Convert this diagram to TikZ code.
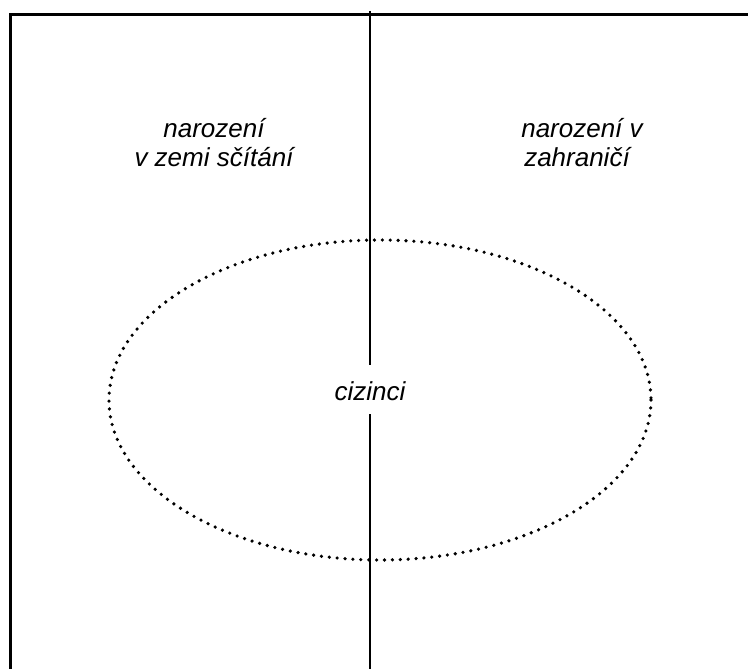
\documentclass[tikz,border=0pt]{standalone}
\usepackage{fontspec}
\setmainfont{Liberation Sans}
\begin{document}
\begin{tikzpicture}[x=1pt,y=-1pt,
  frame/.style={line width=3pt},
  divider/.style={line width=2pt},
  dotline/.style={line width=3.6pt, line cap=round, dash pattern=on 0pt off 7.9pt},
  lbl/.style={font=\fontsize{26}{29.3}\selectfont\itshape, inner sep=0pt, anchor=base}]
\useasboundingbox (0,0) rectangle (748,669);
\draw[frame] (10.5,14.5) rectangle (770,690);
\coordinate (top) at (370,11);
\coordinate (bot) at (370,690);
\draw[divider] (top) -- (bot);
\draw[dotline] (380,400) ellipse [x radius=271, y radius=160];
\node[lbl] (l1) at (214,137) {narození};
\node[lbl] (l2) at (214,166) {v zemi sčítání};
\node[lbl] (r1) at (582,137) {narození v};
\node[lbl] (r2) at (577,166) {zahraničí};
\node[lbl, fill=white, text height=35pt, text depth=14pt, inner xsep=4pt] (c) at (370,400) {cizinci};
\end{tikzpicture}
\end{document}
